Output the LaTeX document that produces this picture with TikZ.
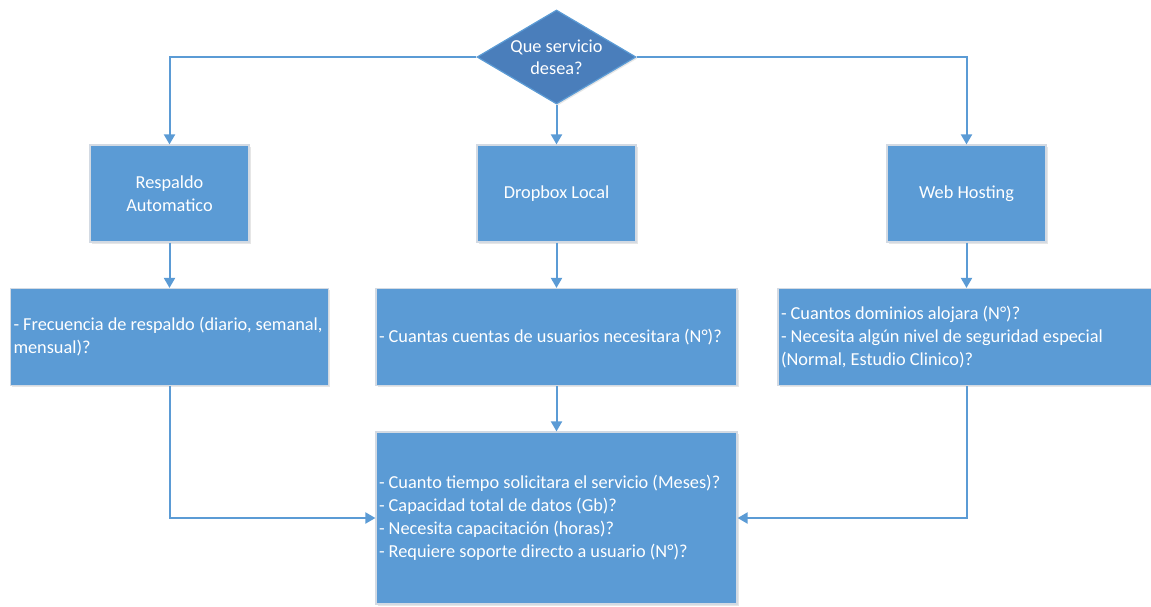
\documentclass[tikz,border=0pt]{standalone}
\usepackage{fontspec}
\setmainfont{Carlito}
\usetikzlibrary{shapes.geometric, arrows.meta, positioning, shadows}
\definecolor{boxblue}{HTML}{5B9BD5}
\definecolor{darkblue}{HTML}{4A7EBB}
\definecolor{edgegray}{HTML}{D3DAE3}
\tikzstyle{service} = [rectangle, minimum width=159pt, minimum height=97pt, text centered, align=center, draw=edgegray, line width=1.2pt, fill=boxblue, text=white, font=\fontsize{18.3}{23}\selectfont, drop shadow={opacity=0.2, shadow xshift=1.5pt, shadow yshift=-1.5pt}]
\tikzstyle{questions} = [service, align=left, text badly ragged, inner xsep=3pt]
\tikzstyle{arrow} = [line width=2pt, boxblue, -{Triangle[width=11pt,length=10pt]}]

\begin{document}
\begin{tikzpicture}[x=1pt, y=-1pt]
    \useasboundingbox (0,0) rectangle (1151,606);
    % Decision
    \node[diamond, aspect=1.69, inner sep=0pt, minimum width=159pt, minimum height=94pt, draw=boxblue, line width=1.2pt, fill=darkblue, text=white, align=center, font=\fontsize{18.3}{22}\selectfont, drop shadow={opacity=0.2, shadow xshift=1.5pt, shadow yshift=-1.5pt}] (question) at (556.5, 57) {Que servicio\\desea?};

    % Services
    \node[service] (respaldo) at (169.5, 193.5) {Respaldo\\Automatico};
    \node[service] (dropbox) at (556.5, 193.5) {Dropbox Local};
    \node[service] (webhost) at (966.5, 193.5) {Web Hosting};

    % Questions per service
    \node[questions, minimum width=318pt, text width=312pt] (qrespaldo) at (169.5, 337) {- Frecuencia de respaldo (diario, semanal,\\mensual)?};
    \node[questions, minimum width=361pt, text width=355pt] (qdropbox) at (556.5, 337) {- Cuantas cuentas de usuarios necesitara (N°)?};
    \node[questions, minimum width=377pt, text width=371pt] (qweb) at (966.5, 337) {- Cuantos dominios alojara (N°)?\\- Necesita algún nivel de seguridad especial\\(Normal, Estudio Clinico)?};

    % Common questions
    \node[questions, minimum width=361pt, minimum height=172pt, text width=355pt] (qcomun) at (556.5, 518) {- Cuanto tiempo solicitara el servicio (Meses)?\\- Capacidad total de datos (Gb)?\\- Necesita capacitación (horas)?\\- Requiere soporte directo a usuario (N°)?};

    % Connectors
    \draw[arrow] (question.west) -| (respaldo.north);
    \draw[arrow] (question.south) -- (dropbox.north);
    \draw[arrow] (question.east) -| (webhost.north);
    \draw[arrow] (respaldo) -- (qrespaldo);
    \draw[arrow] (dropbox) -- (qdropbox);
    \draw[arrow] (webhost.south) -- (webhost.south |- qweb.north);
    \draw[arrow] (qdropbox) -- (qcomun);
    \draw[arrow] (qrespaldo.south) |- (qcomun.west);
    \draw[arrow] (qweb.south -| webhost.south) |- (qcomun.east);
\end{tikzpicture}
\end{document}
